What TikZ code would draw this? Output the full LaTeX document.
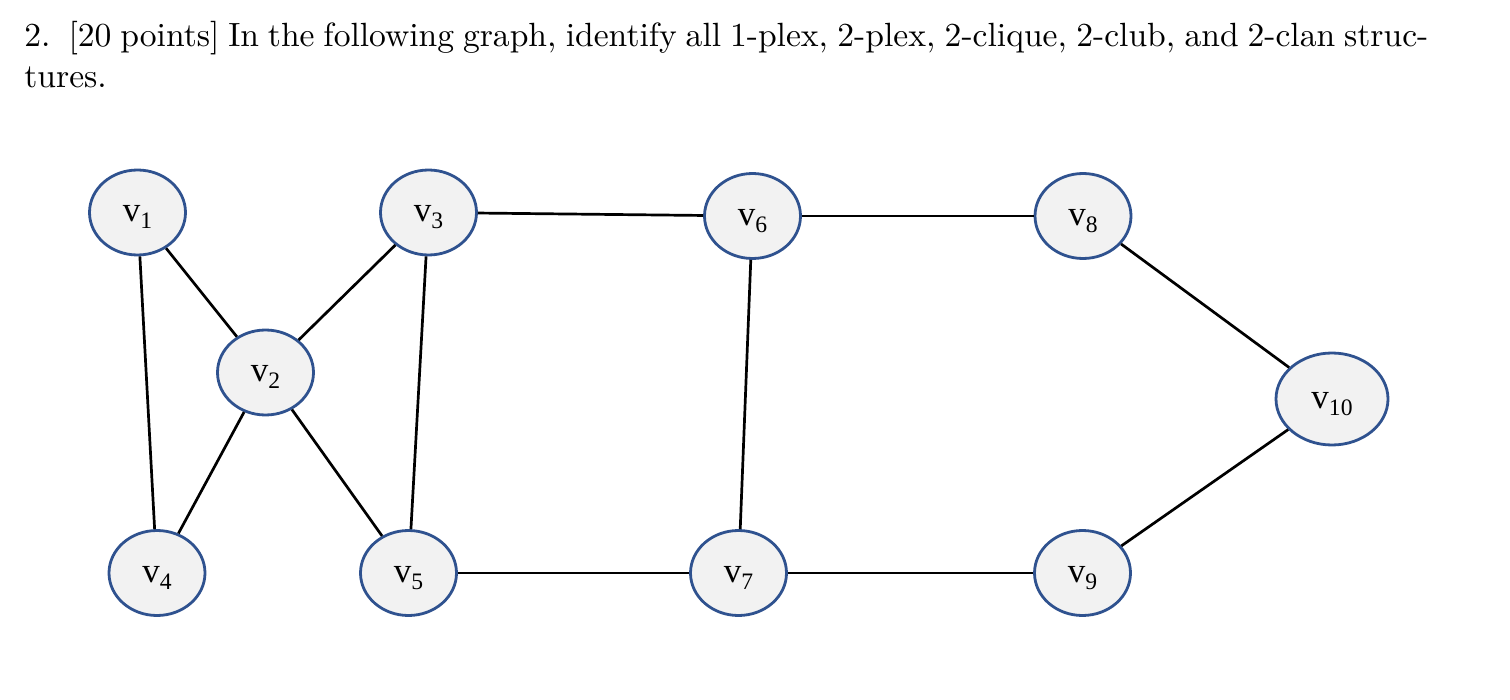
\documentclass[tikz,border=0pt]{standalone}
\usepackage{fontspec}
\newfontfamily\timesfont{Liberation Serif}
\newfontfamily\titlefont{lmroman10-regular}[Extension=.otf]
\usetikzlibrary{shapes.geometric}
\definecolor{nodeblue}{HTML}{2F528F}
\definecolor{nodegray}{HTML}{F2F2F2}
\newcommand{\vlab}[1]{{\timesfont\fontsize{17.5}{18}\selectfont v\raisebox{-3.5pt}{\fontsize{11.8}{12}\selectfont #1}}}

\begin{document}
\begin{tikzpicture}[x=0.5pt,y=-0.5pt,
  vertex/.style={ellipse,draw=nodeblue,fill=nodegray,line width=1.4pt,inner sep=0pt,
    minimum width=48pt,minimum height=42.5pt,text height=12.8pt,text depth=3.5pt},
  edge/.style={black,line width=1.35pt}]
\path[use as bounding box] (0,0) rectangle (1510,700);
\node[anchor=north west,inner sep=0pt,text width=702pt,align=justify,font=\titlefont\fontsize{16.8}{20.3}\selectfont] (title) at (24,21) {2.\hspace{9pt}[20 points] In the following graph, identify all 1-plex, 2-plex, 2-clique, 2-club, and 2-clan struc-\linebreak tures.};
\node[vertex] (v1) at (137.5,212.5) {\vlab{1}};
\node[vertex] (v2) at (265.5,372.5) {\vlab{2}};
\node[vertex] (v3) at (428.5,212.5) {\vlab{3}};
\node[vertex] (v4) at (157,573) {\vlab{4}};
\node[vertex] (v5) at (408.5,573) {\vlab{5}};
\node[vertex] (v6) at (752.5,216) {\vlab{6}};
\node[vertex] (v7) at (738.5,573) {\vlab{7}};
\node[vertex] (v8) at (1083,216) {\vlab{8}};
\node[vertex] (v9) at (1082.5,573) {\vlab{9}};
\node[vertex,minimum width=56pt,minimum height=46pt] (v10) at (1332,399) {\vlab{10}};
\draw[edge] (v1) -- (v2);
\draw[edge] (v1) -- (v4);
\draw[edge] (v2) -- (v3);
\draw[edge] (v2) -- (v4);
\draw[edge] (v2) -- (v5);
\draw[edge] (v3) -- (v5);
\draw[edge] (v3) -- (v6);
\draw[edge] (v6) -- (v8);
\draw[edge] (v6) -- (v7);
\draw[edge] (v5) -- (v7);
\draw[edge] (v7) -- (v9);
\draw[edge] (v8) -- (v10);
\draw[edge] (v10) -- (v9);
\end{tikzpicture}
\end{document}
